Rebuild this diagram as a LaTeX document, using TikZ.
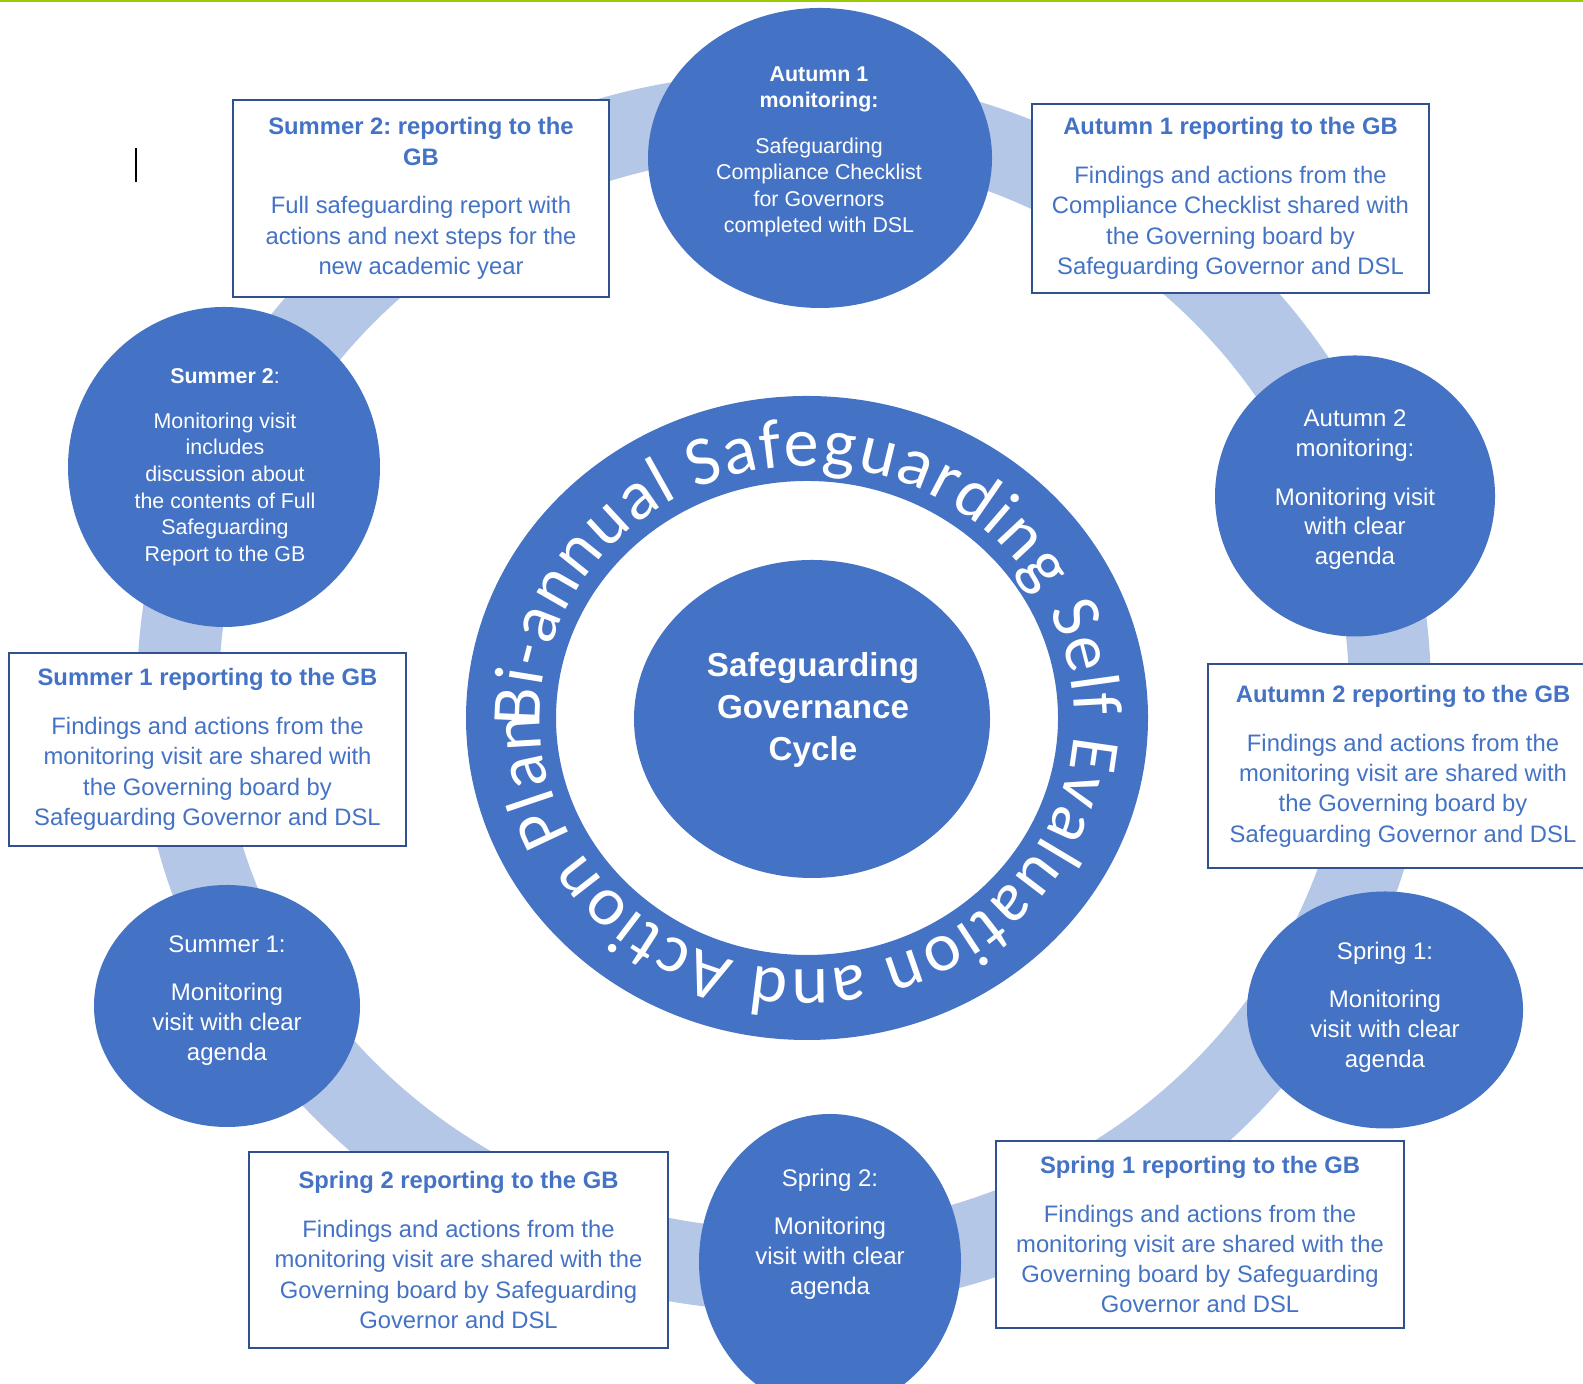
\documentclass[tikz,border=0pt]{standalone}
\usepackage{fontspec}
\setmainfont{Liberation Sans}
\newfontfamily\carlito{Carlito}
\usepackage{tikz}
\usetikzlibrary{shapes.geometric,decorations.text}
\frenchspacing

\definecolor{circblue}{HTML}{4472C4}
\definecolor{bandblue}{HTML}{B4C7E7}
\definecolor{boxedge}{HTML}{2F528F}
\definecolor{topgreen}{HTML}{99CC00}

\tikzset{
  season/.style={ellipse, fill=circblue, inner sep=0pt},
  seasontxt/.style={text=white, align=center, font=\fontsize{6.83}{8.48}\selectfont},
  smalltxt/.style={text=white, align=center, font=\fontsize{6.09}{7.57}\selectfont},
  report/.style={draw=boxedge, line width=0.6pt, fill=white, text=circblue,
    align=center, inner sep=0pt, font=\fontsize{6.77}{8.62}\selectfont},
}

\begin{document}
\begin{tikzpicture}
\useasboundingbox (0,0) rectangle (15.83,13.84);
\clip (0,0) rectangle (15.83,13.84);

%% gap under a heading line
\def\gap{5.3pt}

%% green rule on top
\fill[topgreen] (0,13.815) rectangle (15.83,13.84);

%% the light ring that joins everything  (center, radii)
\draw[bandblue, line width=0.82cm] (7.84,6.92) ellipse [x radius=6.06, y radius=5.78];

%%%%%%%%%%%%%%%% middle : ring + core %%%%%%%%%%%%%%%%
\def\cx{8.07}
\def\cy{6.66}
\fill[circblue, even odd rule] (\cx,\cy) ellipse [x radius=3.41, y radius=3.22]
                               (\cx,\cy) ellipse [x radius=2.51, y radius=2.37];
\path[decorate, decoration={text along path, text align={fit to path}, text color=white,
  text={|\carlito\fontsize{19.9}{20}\selectfont|Bi-annual Safeguarding Self Evaluation and Action Plan}}]
  (\cx,\cy) ++(182:2.67cm and 2.52cm) arc[start angle=182, end angle=-181, x radius=2.67, y radius=2.52];

\node[season, minimum width=3.56cm, minimum height=3.18cm] (core) at (8.12,6.65) {};
\node[text=white, align=center, font=\bfseries\fontsize{9.45}{11.9}\selectfont] (coretxt) at (8.13,6.74)
  {Safeguarding\\Governance\\Cycle};

%%%%%%%%%%%%%%%% monitoring circles %%%%%%%%%%%%%%%%
\node[season, minimum width=3.44cm, minimum height=3.00cm] (aut1) at (8.20,12.26) {};
\node[season, minimum width=2.80cm, minimum height=2.81cm] (aut2) at (13.55,8.88) {};
\node[season, minimum width=2.76cm, minimum height=2.37cm] (spr1) at (13.85,3.74) {};
\node[season, minimum width=2.62cm, minimum height=2.96cm] (spr2) at (8.30,1.22) {};
\node[season, minimum width=2.66cm, minimum height=2.42cm] (sum1) at (2.27,3.78) {};
\node[season, minimum width=3.12cm, minimum height=3.20cm] (sum2) at (2.24,9.17) {};

\node[smalltxt] (aut1txt) at (8.19,12.32)
  {\textbf{Autumn 1}\\\textbf{monitoring:}\\[\gap]Safeguarding\\Compliance Checklist\\for Governors\\completed with DSL};
\node[seasontxt] (aut2txt) at (13.55,8.94)
  {Autumn 2\\monitoring:\\[\gap]Monitoring visit\\with clear\\agenda};
\node[seasontxt] (spr1txt) at (13.85,3.77)
  {Spring 1:\\[\gap]Monitoring\\visit with clear\\agenda};
\node[seasontxt] (spr2txt) at (8.30,1.50)
  {Spring 2:\\[\gap]Monitoring\\visit with clear\\agenda};
\node[seasontxt] (sum1txt) at (2.27,3.835)
  {Summer 1:\\[\gap]Monitoring\\visit with clear\\agenda};
\node[smalltxt] (sum2txt) at (2.25,9.17)
  {\textbf{Summer 2}:\\[\gap]Monitoring visit\\includes\\discussion about\\the contents of Full\\Safeguarding\\Report to the GB};

%%%%%%%%%%%%%%%% reporting boxes %%%%%%%%%%%%%%%%
\node[report, minimum width=3.97cm, minimum height=1.89cm] (aut1box) at (12.305,11.855)
  {\textbf{Autumn 1 reporting to the GB}\\[\gap]Findings and actions from the\\Compliance Checklist shared with\\the Governing board by\\Safeguarding Governor and DSL};
\node[report, minimum width=3.90cm, minimum height=2.04cm] (aut2box) at (14.03,6.18)
  {\textbf{Autumn 2 reporting to the GB}\\[\gap]Findings and actions from the\\monitoring visit are shared with\\the Governing board by\\Safeguarding Governor and DSL};
\node[report, minimum width=4.08cm, minimum height=1.87cm] (spr1box) at (12.00,1.495)
  {\textbf{Spring 1 reporting to the GB}\\[\gap]Findings and actions from the\\monitoring visit are shared with the\\Governing board by Safeguarding\\Governor and DSL};
\node[report, minimum width=4.19cm, minimum height=1.96cm] (spr2box) at (4.585,1.34)
  {\textbf{Spring 2 reporting to the GB}\\[\gap]Findings and actions from the\\monitoring visit are shared with the\\Governing board by Safeguarding\\Governor and DSL};
\node[report, minimum width=3.97cm, minimum height=1.93cm] (sum1box) at (2.075,6.345)
  {\textbf{Summer 1 reporting to the GB}\\[\gap]Findings and actions from the\\monitoring visit are shared with\\the Governing board by\\Safeguarding Governor and DSL};
\node[report, minimum width=3.76cm, minimum height=1.97cm] (sum2box) at (4.21,11.855)
  {\textbf{Summer 2: reporting to the}\\\textbf{GB}\\[\gap]Full safeguarding report with\\actions and next steps for the\\new academic year};

%% text cursor left in the page
\draw[line width=0.6pt] (1.36,12.36) -- (1.36,12.02);
\end{tikzpicture}
\end{document}
